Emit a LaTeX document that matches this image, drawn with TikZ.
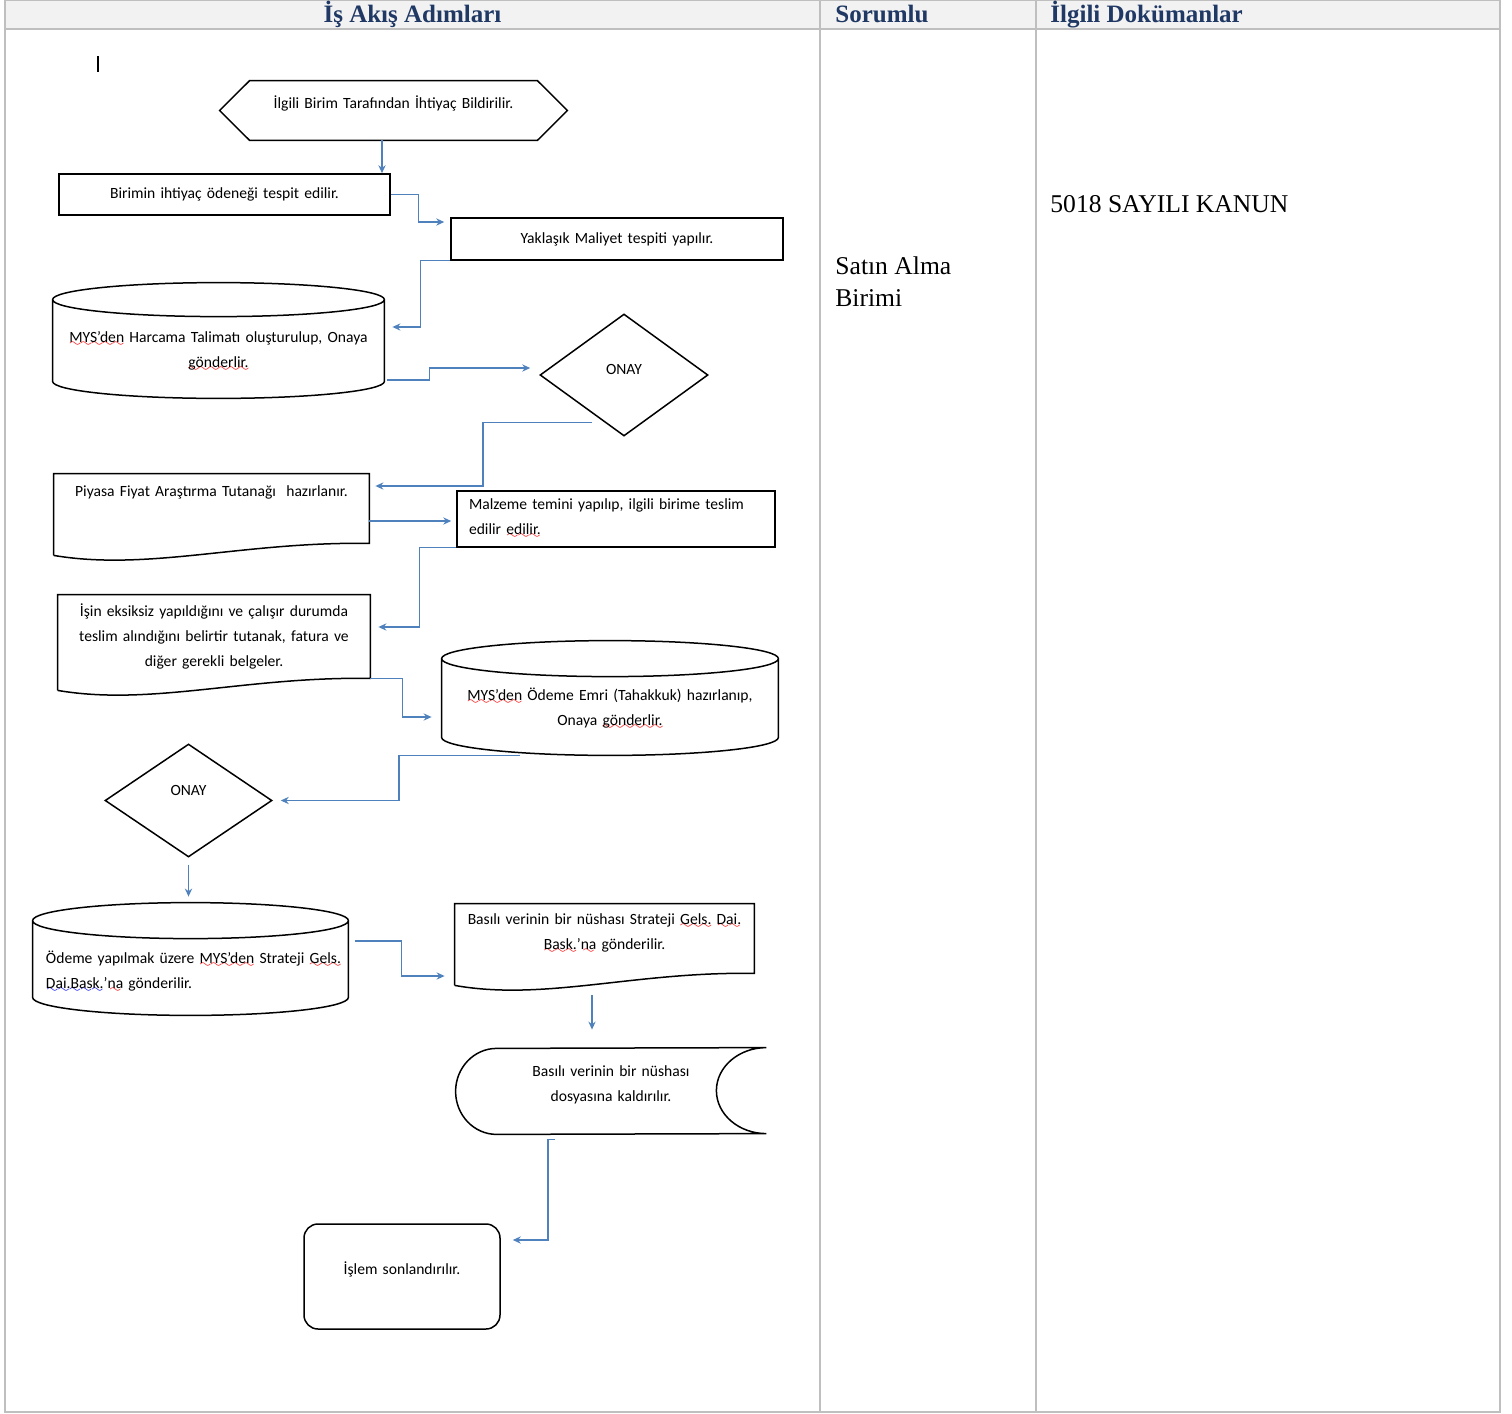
\documentclass[tikz,border=0pt]{standalone}
\usepackage{fontspec}
\setmainfont{Liberation Serif}
\newfontfamily\flowfont{Carlito}
\usetikzlibrary{arrows.meta,calc,shapes.geometric}

\definecolor{conncol}{RGB}{79,129,189}
\definecolor{hdrblue}{RGB}{31,56,100}
\definecolor{gridgray}{RGB}{191,191,191}
\definecolor{hdrfill}{RGB}{242,242,242}

% wavy marks under words
\font\spellwave=lasy6
\newcommand{\wavemark}[2]{\leavevmode\setbox0\hbox{#2}\rlap{\lower2pt\hbox to\wd0{\color{#1}\xleaders\hbox{\spellwave\char58}\hfil}}\box0\relax}
\newcommand{\spell}[1]{\wavemark{red}{#1}}
\newcommand{\gram}[1]{\wavemark{blue}{#1}}

% outlines drawn round named nodes
\newcommand{\hexshape}[2]{%
  \draw[shp] ([xshift=#2]#1.north west) -- ([xshift=-#2]#1.north east) -- (#1.east)
    -- ([xshift=-#2]#1.south east) -- ([xshift=#2]#1.south west) -- (#1.west) -- cycle;}
\newcommand{\docshape}[1]{%
  \draw[shp] ([yshift=-6pt]#1.south west) -- (#1.north west) -- (#1.north east) -- (#1.south east)
    .. controls ($(#1.south west)!0.6!(#1.south east)+(0pt,1pt)$) and ($(#1.south west)!0.3!(#1.south east)+(0pt,-14pt)$) .. ([yshift=-6pt]#1.south west);}
\newcommand{\cylshape}[2]{%
  \draw[shp] let \p1=(#1.north west), \p2=(#1.south east), \n1={(\x2-\x1)/2} in
    (\x1,\y1-#2) arc[start angle=180, end angle=-180, x radius={\n1*1pt}, y radius=#2]
    (\x1,\y1-#2) -- (\x1,\y2+#2) arc[start angle=180, end angle=360, x radius={\n1*1pt}, y radius=#2] -- (\x2,\y1-#2);}
\newcommand{\storeshape}[4]{%
  \draw[shp] (#1.north east) arc[start angle=90, end angle=270, x radius=#3, y radius=#4]
    -- ([xshift=#2]#1.south west) arc[start angle=270, end angle=90, x radius=#2, y radius=#4] -- cycle;}

\begin{document}
\begin{tikzpicture}[x=0.5pt,y=0.5pt,
  flow/.style={font={\flowfont\fontsize{7.8pt}{12.5pt}\selectfont}, inner sep=3pt, align=center},
  box/.style={flow, rectangle, draw, line width=0.75pt},
  plain/.style={flow, rectangle},
  decision/.style={flow, diamond, draw, line width=0.75pt, inner sep=1pt},
  txt/.style={flow, inner sep=0pt},
  shp/.style={line width=0.75pt},
  conn/.style={draw=conncol, line width=0.7pt, -{Stealth[length=4pt,width=3.6pt]}},
  hdr/.style={font=\bfseries\fontsize{12.5pt}{15pt}\selectfont, text=hdrblue, inner sep=0pt},
  cell/.style={font=\fontsize{12.8pt}{16pt}\selectfont, inner sep=0pt, align=left}]

\useasboundingbox (0,0) rectangle (1512,-1414);

% table
\fill[hdrfill] (5,0) rectangle (1500,-29);
\draw[gridgray, line width=1pt] (5,0) rectangle (1500,-1412) (5,-29) -- (1500,-29)
  (820,0) -- (820,-1412) (1036,0) -- (1036,-1412);
\node[hdr, anchor=base] (hadim) at (412.5,-22) {İş Akış Adımları};
\node[hdr, anchor=base west] (hsor) at (835,-22) {Sorumlu};
\node[hdr, anchor=base west] (hdok) at (1050,-22) {İlgili Dokümanlar};
\node[cell, anchor=base west] (satin) at (835,-306) {Satın Alma\\Birimi};
\node[cell, anchor=base west] (kanun) at (1050,-212.5) {5018 SAYILI KANUN};

\draw[line width=0.6pt] (98,-56) -- (98,-72);

% flow
\node[plain, minimum width=173.5pt, minimum height=29.5pt,
  label={[txt, name=need-t, text width=150pt, yshift=3.75pt]center:{İlgili Birim Tarafından İhtiyaç Bildirilir.}}] (need) at (393.5,-110.5) {};
\hexshape{need}{15pt}
\node[box, minimum width=165.5pt, minimum height=20.5pt, text width=155pt] (odenek) at (224.5,-194.5) {Birimin ihtiyaç ödeneği tespit edilir.};
\node[box, minimum width=166pt, minimum height=21pt, text width=155pt] (maliyet) at (617,-239) {Yaklaşık Maliyet tespiti yapılır.};
\node[plain, minimum width=165.5pt, minimum height=57.5pt,
  label={[txt, name=talimat-t, text width=158pt, yshift=-5.25pt]center:{\spell{MYS’den} Harcama Talimatı oluşturulup, Onaya\\ \spell{gönderlir.}}}] (talimat) at (218.5,-340.5) {};
\cylshape{talimat}{8.5pt}
\node[decision, minimum width=84pt, minimum height=61pt,
  label={[txt, name=onay1-t, yshift=3pt]center:{ONAY}}] (onay1) at (624,-375) {};
\node[plain, minimum width=157.5pt, minimum height=34.5pt,
  label={[txt, name=piyasa-t, text width=150pt, yshift=8.25pt]center:{Piyasa Fiyat Araştırma Tutanağı\ \ hazırlanır.}}] (piyasa) at (211.5,-508.5) {};
\docshape{piyasa}
\node[box, minimum width=159pt, minimum height=28pt, text width=147pt, inner xsep=6pt, align=left] (malzeme) at (616,-519) {Malzeme temini yapılıp, ilgili birime teslim\\ edilir \spell{edilir.}};
\node[plain, minimum width=156pt, minimum height=41.5pt, text width=148pt] (isin) at (214,-636.5) {İşin eksiksiz yapıldığını ve çalışır durumda\\ teslim alındığını belirtir tutanak, fatura ve\\ diğer gerekli belgeler.};
\docshape{isin}
\node[plain, minimum width=168pt, minimum height=57pt,
  label={[txt, name=emir-t, text width=160pt, yshift=-5.25pt]center:{\spell{MYS’den} Ödeme Emri (Tahakkuk) hazırlanıp,\\ Onaya \spell{gönderlir.}}}] (emir) at (610,-698) {};
\cylshape{emir}{9pt}
\node[decision, minimum width=83.5pt, minimum height=56.5pt,
  label={[txt, name=onay2-t, yshift=5pt]center:{ONAY}}] (onay2) at (188.5,-800.5) {};
\node[plain, minimum width=157.5pt, minimum height=56pt,
  label={[txt, name=gonder-t, text width=150pt, align=left, xshift=2.75pt, yshift=-6.25pt]center:{Ödeme yapılmak üzere \spell{MYS’den} Strateji \spell{Gels.}\\ \gram{Dai.Bask.}’\spell{na} gönderilir.}}] (gonder) at (190.5,-959) {};
\cylshape{gonder}{9pt}
\node[plain, minimum width=149.5pt, minimum height=34.5pt,
  label={[txt, name=basili-t, text width=142pt, yshift=2.5pt]center:{Basılı verinin bir nüshası Strateji \spell{Gels.} \spell{Dai.}\\ \spell{Bask.}’\spell{na} gönderilir.}}] (basili) at (604.5,-938.5) {};
\docshape{basili}
\node[plain, minimum width=155pt, minimum height=43pt,
  label={[txt, name=dosya-t, text width=100pt, yshift=3.25pt]center:{Basılı verinin bir nüshası\\ dosyasına kaldırılır.}}] (dosya) at (611,-1091) {};
\storeshape{dosya}{20.5pt}{25pt}{21.5pt}
\node[box, rounded corners=7pt, minimum width=98pt, minimum height=52.5pt,
  label={[txt, name=son-t, text width=90pt, yshift=3.75pt]center:{İşlem sonlandırılır.}}] (son) at (402,-1276.5) {};

% connectors
\draw[conn] ([xshift=-5.75pt]need.south) -- ([xshift=-5.75pt]need.south |- odenek.north);
\draw[conn, shorten >=3pt] (odenek.east) -- ++(14pt,0pt) |- ([yshift=8.5pt]maliyet.west);
\draw[conn, shorten >=4pt] (maliyet.south west) -- ++(-15pt,0pt) |- ([yshift=6.75pt]talimat.east);
\draw[conn, shorten >=4.5pt] ([xshift=1.5pt,yshift=-19.75pt]talimat.east) -- ++(21pt,0pt) |- ([yshift=3.5pt]onay1.west);
\draw[conn, shorten >=3pt] ([xshift=-16pt,yshift=7pt]onay1.south) -- ++(-54.5pt,0pt) |- ([yshift=11.25pt]piyasa.east);
\draw[conn, shorten >=2.5pt] ([yshift=-6.25pt]piyasa.east) -- ([yshift=-6.25pt]piyasa.east -| malzeme.west);
\draw[conn, shorten >=4pt] (malzeme.south west) -- ++(-18.5pt,0pt) |- ([yshift=4.75pt]isin.east);
\draw[conn, shorten >=5pt] (isin.south east) -- ++(16pt,0pt) |- ([yshift=-9.5pt]emir.west);
\draw[conn, shorten >=4pt] ([xshift=-45pt]emir.south) -- ++(-60.5pt,0pt) |- (onay2.east);
\draw[conn, shorten >=3pt] ([yshift=-3.5pt]onay2.south) -- (onay2.south |- gonder.north);
\draw[conn, shorten >=5pt] ([xshift=3.5pt,yshift=9pt]gonder.east) -- ++(23pt,0pt) |- ([yshift=-18.75pt]basili.west);
\draw[conn, shorten >=9pt] ([xshift=-6.25pt,yshift=-11pt]basili.south) -- ([xshift=-6.25pt]basili.south |- dosya.north);
\draw[conn, shorten >=6pt] ([xshift=-28pt,yshift=-2.5pt]dosya.south) -- ++(-3.5pt,0pt) |- ([yshift=18.25pt]son.east);

\end{tikzpicture}
\end{document}
